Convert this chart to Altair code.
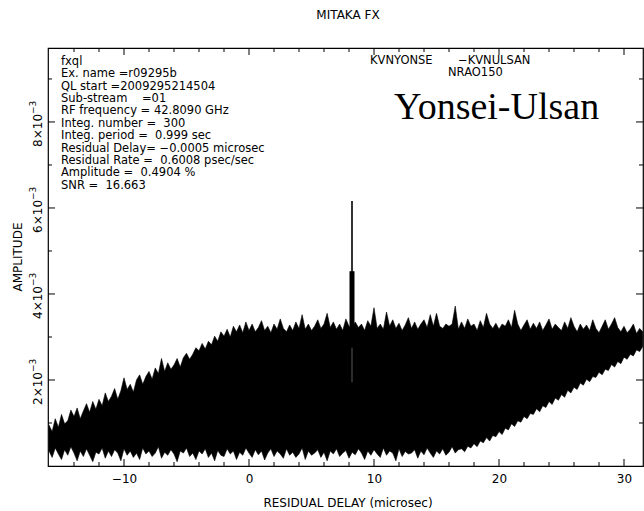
import altair as alt
import numpy as np
import pandas as pd

# ---- fringe amplitude vs residual delay -------------------------------
# Delay grid of the lag spectrum (microsec)
delay_start = -16.0
delay_step = 0.25
n_samples = 191

# Upper and lower edge of the noise band, in units of 1e-3
amp_upper = [
    0.95, 0.80, 1.10, 0.90,  1.20, 0.98, 1.05, 1.30,  1.15, 1.35, 1.10, 1.28,
    1.45, 1.25, 1.50, 1.32,  1.55, 1.40, 1.70, 1.50,  1.62, 1.80, 1.55, 1.75,
    2.05, 1.78, 1.90, 1.72,  2.00, 2.12, 1.90, 2.08,  2.20, 2.02, 2.28, 2.15,
    2.50, 2.20, 2.40, 2.25,  2.35, 2.50, 2.30, 2.52,  2.62, 2.48, 2.60, 2.75,
    2.68, 2.85, 2.72, 2.90,  2.82, 3.02, 2.90, 3.12,  3.02, 3.18, 3.00, 3.25,
    3.12, 3.28, 3.10, 3.35,  3.15, 3.30, 3.12, 3.22,  3.38, 3.15, 3.25, 3.10,
    3.30, 3.18, 3.42, 3.20,  3.12, 3.28, 3.15, 3.35,  3.20, 3.52, 3.18, 3.30,
    3.15, 3.25, 3.40, 3.20,  3.30, 3.55, 3.22, 3.35,  3.18, 3.30, 3.15, 3.42,
    3.25, 3.20, 3.35, 3.22,  3.30, 3.15, 3.38, 3.25,  3.68, 3.20, 3.30, 3.18,
    3.58, 3.25, 3.40, 3.20,  3.32, 3.15, 3.28, 3.45,  3.20, 3.35, 3.18, 3.30,
    3.40, 3.22, 3.52, 3.25,  3.55, 3.25, 3.20, 3.30,  3.25, 3.30, 3.72, 3.18,
    3.35, 3.20, 3.42, 3.25,  3.30, 3.15, 3.38, 3.22,  3.55, 3.30, 3.20, 3.32,
    3.18, 3.30, 3.25, 3.40,  3.22, 3.62, 3.30, 3.15,  3.28, 3.40, 3.18, 3.32,
    3.20, 3.35, 3.15, 3.28,  3.42, 3.18, 3.30, 3.22,  3.15, 3.35, 3.20, 3.45,
    3.25, 3.12, 3.30, 3.18,  3.28, 3.15, 3.40, 3.20,  3.10, 3.25, 3.40, 3.18,
    3.30, 3.45, 3.22, 3.12,  3.25, 3.10, 3.18, 3.30,  3.08, 3.20, 3.12,
]
amp_lower = [
    0.35, 0.20, 0.42, 0.28,  0.15, 0.38, 0.25, 0.45,  0.30, 0.12, 0.35, 0.22,
    0.40, 0.25, 0.10, 0.32,  0.28, 0.42, 0.18, 0.35,  0.22, 0.38, 0.30, 0.12,
    0.40, 0.25, 0.35, 0.20,  0.30, 0.15, 0.42, 0.28,  0.35, 0.22, 0.30, 0.45,
    0.18, 0.32, 0.25, 0.38,  0.28, 0.10, 0.35, 0.30,  0.42, 0.22, 0.30, 0.15,
    0.35, 0.28, 0.40, 0.20,  0.30, 0.12, 0.36, 0.25,  0.22, 0.40, 0.28, 0.35,
    0.15, 0.32, 0.25, 0.42,  0.30, 0.20, 0.38, 0.26,  0.35, 0.14, 0.30, 0.40,
    0.22, 0.35, 0.28, 0.18,  0.40, 0.25, 0.32, 0.20,  0.28, 0.42, 0.15, 0.35,
    0.25, 0.30, 0.38, 0.20,  0.32, 0.12, 0.35, 0.28,  0.40, 0.22, 0.30, 0.36,
    0.18, 0.32, 0.26, 0.40,  0.30, 0.15, 0.35, 0.25,  0.38, 0.28, 0.20, 0.42,
    0.25, 0.35, 0.30, 0.12,  0.40, 0.22, 0.34, 0.28,  0.30, 0.38, 0.18, 0.35,
    0.26, 0.42, 0.30, 0.20,  0.35, 0.28, 0.40, 0.25,  0.32, 0.45, 0.30, 0.38,
    0.40, 0.33, 0.46, 0.42,  0.52, 0.45, 0.58, 0.54,  0.66, 0.58, 0.71, 0.68,
    0.80, 0.73, 0.88, 0.84,  0.98, 0.92, 1.05, 1.02,  1.15, 1.10, 1.22, 1.20,
    1.33, 1.26, 1.40, 1.36,  1.50, 1.43, 1.58, 1.53,  1.66, 1.60, 1.76, 1.70,
    1.83, 1.78, 1.93, 1.88,  2.02, 1.96, 2.08, 2.06,  2.18, 2.12, 2.25, 2.22,
    2.36, 2.30, 2.43, 2.38,  2.53, 2.48, 2.60, 2.56,  2.70, 2.66, 2.78,
]

# Fringe peak: stem rising out of the band, its narrow tip,
# and the short gap seen inside the band under it
peak_delay = [8.24]
peak_base_amp = [3.0e-3]
peak_stem_amp = [4.53e-3]
peak_tip_amp = [6.16e-3]
peak_gap_low = [1.95e-3]
peak_gap_high = [2.75e-3]

# Axis ticks
x_major = [-10, 0, 10, 20, 30]
x_minor = [-14, -12, -8, -6, -4, -2, 2, 4, 6, 8, 12, 14, 16, 18, 22, 24, 26, 28]
y_major = [0.002, 0.004, 0.006, 0.008]
y_minor = [0.001, 0.003, 0.005, 0.007, 0.009]
y_mantissa = ["2", "4", "6", "8"]
y_exponent = "\u22123"

# Header texts
plot_title = "MITAKA FX"
x_title = "RESIDUAL DELAY (microsec)"
y_title = "AMPLITUDE"
station_a = "KVNYONSE"
station_b = "\u2212KVNULSAN"
source_name = "NRAO150"
baseline_name = "Yonsei-Ulsan"
info_lines = [
    "fxql",
    "Ex. name =r09295b",
    "QL start =2009295214504",
    "Sub-stream\u00a0\u00a0\u00a0\u00a0=01",
    "RF frequency = 42.8090 GHz",
    "Integ. number =\u00a0\u00a0300",
    "Integ. period =\u00a0\u00a00.999 sec",
    "Residual Delay= \u22120.0005 microsec",
    "Residual Rate =\u00a0\u00a00.6008 psec/sec",
    "Amplitude =\u00a0\u00a00.4904 %",
    "SNR =\u00a0\u00a016.663",
]

# ---- layout --------------------------------------------------------------
W, H = 595, 418
FONT = "DejaVu Sans"
x_scale = alt.Scale(domain=[-16.08, 31.52], nice=False, zero=False)
y_scale = alt.Scale(domain=[0, 0.00972], nice=False, zero=False)

delay = delay_start + delay_step * np.arange(n_samples)
band_df = pd.DataFrame({
    "delay": delay,
    "upper": np.array(amp_upper) * 1e-3,
    "lower": np.array(amp_lower) * 1e-3,
})

band = alt.Chart(band_df).mark_area(
    color="black", stroke="black", strokeWidth=0.6, interpolate="linear", clip=True
).encode(
    x=alt.X("delay:Q", scale=x_scale,
            axis=alt.Axis(values=x_major, ticks=False, tickSize=0, domain=False,
                          grid=False, labelFont=FONT, labelFontSize=12,
                          labelColor="black", labelPadding=12,
                          labelBaseline="middle", title=None)),
    y=alt.Y("upper:Q", scale=y_scale, axis=None),
    y2="lower:Q",
)

peak_df = pd.DataFrame({
    "delay": peak_delay, "base": peak_base_amp, "stem": peak_stem_amp,
    "tip": peak_tip_amp, "gap_lo": peak_gap_low, "gap_hi": peak_gap_high,
})
stem = alt.Chart(peak_df).mark_rule(color="black", strokeWidth=5).encode(
    x=alt.X("delay:Q", scale=x_scale), y=alt.Y("stem:Q", scale=y_scale), y2="base:Q"
)
tip = alt.Chart(peak_df).mark_rule(color="black", strokeWidth=1.6).encode(
    x=alt.X("delay:Q", scale=x_scale), y=alt.Y("tip:Q", scale=y_scale), y2="base:Q"
)
gap = alt.Chart(peak_df).mark_rule(color="white", strokeWidth=1, opacity=0.35).encode(
    x=alt.X("delay:Q", scale=x_scale), y=alt.Y("gap_hi:Q", scale=y_scale), y2="gap_lo:Q"
)


def x_ticks(values, length, top):
    df = pd.DataFrame({"delay": values})
    y0, y1 = (0, length) if top else (H, H - length)
    return alt.Chart(df).mark_rule(color="black", strokeWidth=1).encode(
        x=alt.X("delay:Q", scale=x_scale), y=alt.value(y0), y2=alt.value(y1)
    )


def y_ticks(values, length, right):
    df = pd.DataFrame({"amp": values})
    x0, x1 = (W, W - length) if right else (0, length)
    return alt.Chart(df).mark_rule(color="black", strokeWidth=1).encode(
        y=alt.Y("amp:Q", scale=y_scale), x=alt.value(x0), x2=alt.value(x1)
    )


ticks = [
    x_ticks(x_major, 7, False), x_ticks(x_minor, 4, False),
    x_ticks(x_major, 7, True), x_ticks(x_minor, 4, True),
    y_ticks(y_major, 7, False), y_ticks(y_minor, 4, False),
    y_ticks(y_major, 7, True), y_ticks(y_minor, 4, True),
]

ylab_df = pd.DataFrame({"amp": y_major, "base": [m + "\u00d710" for m in y_mantissa]})
ylab_base = alt.Chart(ylab_df).mark_text(
    angle=270, align="right", baseline="alphabetic", dx=8,
    font=FONT, fontSize=12, color="black"
).encode(y=alt.Y("amp:Q", scale=y_scale), x=alt.value(-6), text="base:N")
ylab_exp = alt.Chart(ylab_df).mark_text(
    angle=270, align="left", baseline="alphabetic", dx=8, dy=-6,
    font=FONT, fontSize=9, color="black", text=y_exponent
).encode(y=alt.Y("amp:Q", scale=y_scale), x=alt.value(-6))


def label(text, x, y, size=12, font=FONT, align="left", baseline="middle",
          angle=0, **kw):
    df = pd.DataFrame({"t": [text]})
    return alt.Chart(df).mark_text(
        align=align, baseline=baseline, font=font, fontSize=size,
        color="black", angle=angle, **kw
    ).encode(text="t:N", x=alt.value(x), y=alt.value(y))


texts = [
    label(plot_title, 300, -33, align="center"),
    label(x_title, 300, 455, align="center"),
    label(y_title, -26, 209, align="center", baseline="alphabetic", angle=270),
    label(station_a, 322, 12.7, size=11.5),
    label(station_b, 410, 12.7, size=11.5),
    label(source_name, 400, 25, size=11.5),
    label(baseline_name, 346, 60, size=38, font="Liberation Serif"),
    label("\n".join(info_lines), 13, 8, size=11.5, baseline="top",
          lineBreak="\n", lineHeight=12.36),
]

chart = alt.layer(band, stem, tip, gap, *ticks, ylab_base, ylab_exp, *texts).properties(
    width=W, height=H,
    autosize=alt.AutoSizeParams(type="none"),
    padding={"left": 48, "top": 48, "right": 1, "bottom": 45},
    background="white",
).configure_view(stroke="black", strokeWidth=1.2)

chart.save("out.html", embed_options={"renderer": "svg", "actions": False})
